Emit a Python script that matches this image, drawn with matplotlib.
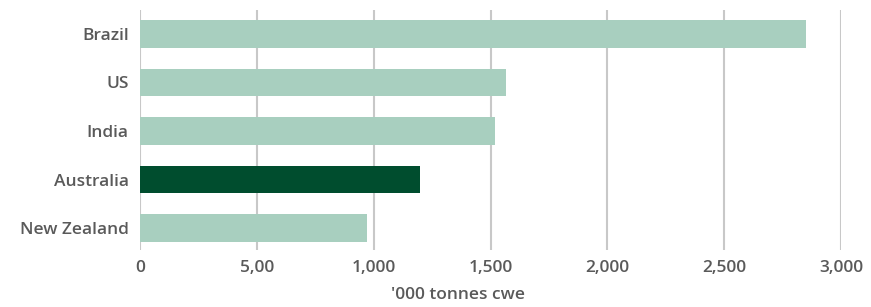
import matplotlib.pyplot as plt

countries = ['Brazil', 'US', 'India', 'Australia', 'New Zealand']
values = [2850, 1565, 1520, 1200, 970]
colors = ['#a8cfbf', '#a8cfbf', '#a8cfbf', '#004d2e', '#a8cfbf']
xticks = [0, 500, 1000, 1500, 2000, 2500, 3000]
xtick_labels = ['0', '5,00', '1,000', '1,500', '2,000', '2,500', '3,000']

plt.rcParams['font.family'] = ['Open Sans', 'DejaVu Sans']
plt.rcParams['font.weight'] = 600

fig = plt.figure(figsize=(8.71, 3.07), dpi=100)
ax = fig.add_axes([0.1607, 0.186, 0.805, 0.781])

ax.barh(countries, values, height=0.56, color=colors, zorder=3)
ax.set_xlim(0, 3000)
ax.set_ylim(4.45, -0.49)
ax.set_xticks(xticks)
ax.set_xticklabels(xtick_labels)
ax.grid(axis='x', color='#c8c8c8', linewidth=1.5, zorder=0)
ax.grid(axis='y', visible=False)
for s in ax.spines.values():
    s.set_visible(False)
ax.tick_params(length=0, labelsize=12.5, colors='#5a5a5a', pad=8)
ax.tick_params(axis='x', pad=7)
ax.set_xlabel("'000 tonnes cwe", fontsize=12.5, color='#5a5a5a', fontweight=600)
ax.xaxis.set_label_coords(0.454, -0.155)

fig.savefig('out.png', dpi=100)
